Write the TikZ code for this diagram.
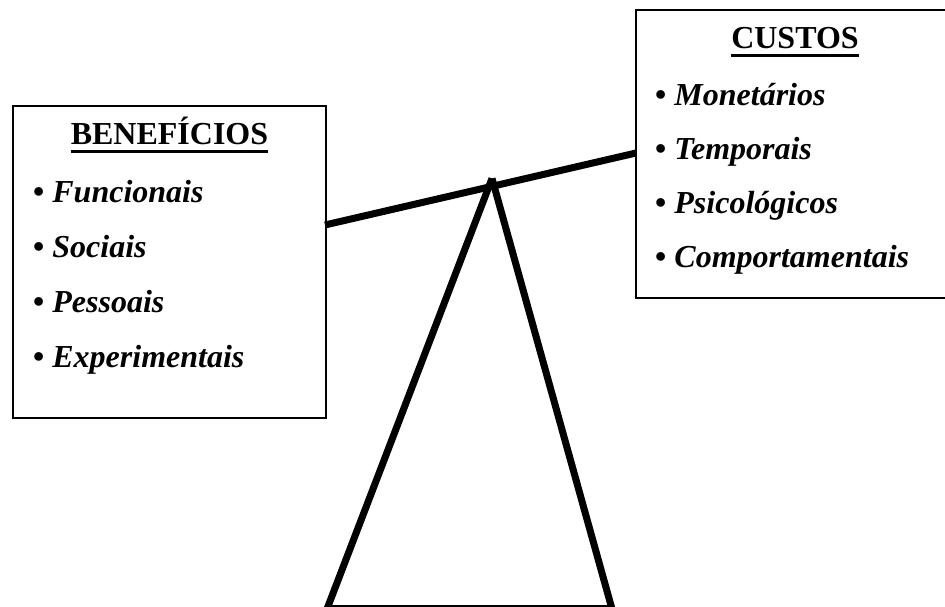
\documentclass[tikz,border=0pt]{standalone}
\usepackage{fontspec}
\setmainfont{Liberation Serif}
\begin{document}
\begin{tikzpicture}[x=1pt,y=-1pt,
  box/.style={draw, line width=1.8pt, inner sep=0pt, outer sep=0pt, anchor=north west},
  head/.style={font=\fontsize{32}{38}\selectfont\bfseries, inner sep=0pt, anchor=base},
  item/.style={font=\fontsize{32}{38}\selectfont\bfseries, inner sep=0pt, anchor=base west},
  uline/.style={line width=2.6pt},
  bar/.style={line width=7pt, line cap=butt}]
\useasboundingbox (0,0) rectangle (945,607);

% benefits box
\node[box, minimum width=313pt, minimum height=312pt] (ben) at (13,106) {};
\node[head] (benh) at (169.5,145) {BENEFÍCIOS};
\draw[uline] ([yshift=-6.5pt]benh.base west) -- ([yshift=-6.5pt]benh.base east);
\node[item] (b1) at (33,202) {• \textit{Funcionais}};
\node[item] (b2) at (33,257) {• \textit{Sociais}};
\node[item] (b3) at (33,312) {• \textit{Pessoais}};
\node[item] (b4) at (33,367) {• \textit{Experimentais}};

% costs box
\node[box, minimum width=312pt, minimum height=288pt] (cus) at (636,10) {};
\node[head] (cush) at (795,49) {CUSTOS};
\draw[uline] ([yshift=-6.5pt]cush.base west) -- ([yshift=-6.5pt]cush.base east);
\node[item] (c1) at (655,106) {• \textit{Monetários}};
\node[item] (c2) at (655,160) {• \textit{Temporais}};
\node[item] (c3) at (655,213) {• \textit{Psicológicos}};
\node[item] (c4) at (655,267) {• \textit{Comportamentais}};

% balance beam and fulcrum
\coordinate (beamL) at (325,225);
\coordinate (beamR) at (636,153);
\coordinate (apex) at (492,178.5);
\coordinate (footL) at (327,609);
\coordinate (footR) at (612,609);
\draw[bar] (beamL) -- (beamR);
\draw[bar] (footL) -- (apex);
\draw[bar] (footR) -- (apex);
\draw[line width=1.3pt] ([yshift=3pt]footL) -- ([yshift=3pt]footR);
\end{tikzpicture}
\end{document}
